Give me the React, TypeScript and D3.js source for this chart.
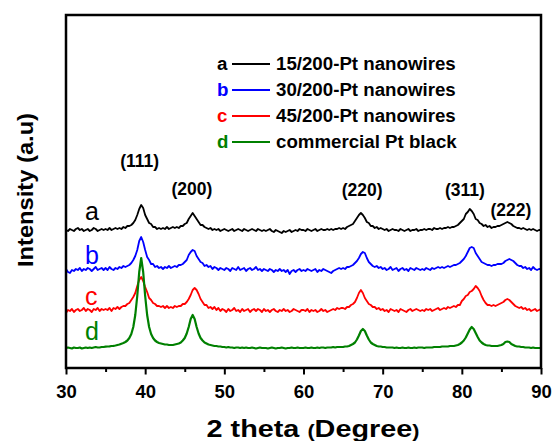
import React, { useEffect, useRef } from "react";
import * as d3 from "d3";

// XRD scan: 30 -> 90 deg, step 0.25 deg (241 points per pattern)
const scanStart = 30;
const scanStep = 0.25;

// intensity above each pattern's own baseline (a.u.)
const patternA = [
  0, -1, 1, 0, -1, 1, 2, 0, 1, -1, 0, 1, -1, 0, 2, 1, -1, 0, 1, 0,
  1, 0, 2, 0, 1, 2, 1, 2, 1, 3, 2, 4, 4, 5, 7, 10, 15, 21, 25, 22,
  15, 11, 7, 6, 3, 3, 1, 2, 1, 2, 1, 3, 1, 2, 3, 2, 3, 2, 4, 4,
  6, 7, 11, 14, 17, 14, 11, 8, 5, 5, 3, 2, 1, 2, 0, 1, 0, 1, -1, 0,
  1, 0, -1, 0, 1, -1, 0, 1, 0, -1, 1, 0, -1, 0, 1, 0, -1, 1, 0, -1,
  0, -1, 0, 1, -1, -2, 0, -1, -2, -3, -1, -2, -1, 0, -2, -1, 0, -1, 1, 0,
  0, -1, 1, 0, -1, 0, 1, -1, 0, 1, 0, 0, 1, 0, 1, 0, 1, 1, 2, 1,
  2, 1, 3, 4, 5, 6, 9, 12, 15, 17, 15, 12, 8, 7, 4, 4, 2, 3, 1, 2,
  1, 0, 1, -1, 0, 1, 0, 0, -1, 1, 0, -1, 0, 1, -1, 0, 0, 1, -1, 0,
  0, 1, 0, 1, 1, 0, 2, 1, 1, 2, 1, 2, 2, 3, 2, 3, 3, 4, 5, 7,
  9, 11, 16, 18, 21, 19, 16, 11, 10, 7, 6, 4, 5, 3, 4, 2, 3, 3, 4, 4,
  5, 6, 7, 8, 7, 6, 4, 3, 2, 2, 1, 2, 1, 0, 1, 0, 1, 0, -1, 0,
  0,
];

const patternB = [
  0, -3, -4, -1, -2, 0, -1, 1, -2, 0, -1, 1, 0, -2, 0, 2, -1, 0, 1, -1,
  1, -1, 2, 0, -1, 1, 0, 2, 1, 3, 2, 3, 4, 6, 9, 13, 19, 28, 32, 27,
  19, 12, 9, 5, 5, 2, 3, 1, 2, 0, 2, 1, 3, 1, 2, 3, 2, 4, 4, 5,
  7, 9, 14, 17, 19, 18, 13, 10, 7, 6, 3, 4, 2, 3, 0, 2, 1, -1, 1, 0,
  -1, 1, 0, -2, 1, 0, -1, 2, -1, 0, 1, -2, 0, 1, -1, 0, 2, -1, 0, -2,
  0, -1, -2, 0, -1, -3, -1, -2, 0, -2, -1, -3, -1, -5, -2, -1, -3, -1, 0, -2,
  -1, -2, 0, -1, -2, -1, 0, -3, -1, -2, 0, -1, -2, -3, -4, -2, -1, 0, 1, 0,
  1, 0, 2, 2, 3, 4, 6, 8, 11, 15, 17, 16, 11, 7, 5, 3, 2, 3, 1, 2,
  0, 1, -1, 0, 2, -1, 0, 1, -2, 0, 1, -1, 0, -2, 1, 0, -1, 1, 0, -1,
  0, -1, 1, 0, -1, 1, 0, 1, 2, 1, 2, 1, 2, 3, 2, 3, 4, 4, 5, 6,
  8, 10, 13, 17, 21, 22, 21, 16, 13, 10, 7, 6, 5, 4, 4, 3, 4, 4, 5, 5,
  5, 6, 8, 9, 10, 9, 8, 6, 4, 3, 3, 1, 2, 0, 1, -1, 2, 0, -1, 0,
  0,
];

const patternC = [
  -3, 0, -1, 1, -2, 0, 1, -1, 0, 2, -1, 1, 0, -2, 1, 0, 2, -1, 1, 0,
  1, 0, 2, -1, 2, 1, 3, 1, 3, 4, 4, 6, 7, 10, 13, 17, 24, 30, 33, 29,
  23, 18, 12, 10, 7, 6, 4, 4, 3, 4, 2, 4, 2, 3, 2, 4, 3, 4, 4, 6,
  6, 8, 11, 15, 20, 22, 20, 16, 11, 8, 5, 5, 2, 3, 1, 3, 0, 2, -1, 1,
  0, -2, 1, -1, 0, 2, -1, 0, -2, 1, -1, 0, 1, -2, 0, 1, -1, 1, 0, -2,
  1, -1, 0, -2, 0, 1, -1, -2, 0, -1, 1, -1, 0, -2, -1, 1, 0, -1, -2, 0,
  0, -1, 1, -2, 0, -1, 0, -2, -1, 1, -1, 0, -2, -1, 0, 1, 0, 2, 1, 2,
  2, 1, 3, 3, 5, 6, 8, 12, 17, 20, 17, 12, 9, 6, 5, 3, 3, 1, 2, 0,
  1, -1, 0, -2, 1, 0, -1, 0, -2, 1, 0, -1, -2, 0, 1, -1, 0, 1, 0, -1,
  0, -1, 1, 0, 1, -1, 0, 1, 2, 0, 1, 2, 1, 3, 2, 3, 4, 3, 5, 5,
  9, 11, 14, 15, 18, 19, 21, 24, 22, 19, 14, 10, 7, 5, 5, 4, 5, 4, 5, 6,
  7, 8, 10, 11, 10, 8, 6, 4, 3, 2, 3, 1, 2, 0, 1, -1, 0, 1, -1, 0,
  1,
];

const patternD = [
  0, 0.5, 0, -0.5, 0.5, 0, 0, 0.5, -0.5, 0, 0.5, 0, 0.5, 0, 0.5, 1, 0.5, 0.5, 1, 1,
  1.3, 1.5, 1.7, 2, 2.2, 2.5, 3, 3.5, 4.3, 5, 6, 7.5, 10, 14, 21, 33, 52, 76, 90, 76,
  52, 33, 21, 14, 10, 7.5, 6, 5, 4.5, 4, 3.5, 3.5, 3, 3, 3, 3.5, 4, 4.5, 5.5, 7.5,
  10, 14.5, 21, 29, 33, 29, 21, 14.5, 10, 7.5, 5.5, 4.5, 3.5, 3, 2.5, 2, 2, 1.5, 1.5, 1,
  1, 0.5, 1, 0.5, 0.5, 0, 0.5, 0.5, 0, 0.5, 0, 0.5, 0, 0, 0.5, 0, -0.5, 0, 0.5, 0,
  0, 0, -0.5, 0, 0.5, 0, -0.5, 0, 0, 0.5, 0, -0.5, 0, 0, 0.5, 0, 0, 0.5, 0, 0,
  0, 0.5, 0, 0, 0.5, 0, 0, 0.5, 0, 0.5, 0.5, 0, 0.5, 0.5, 0.5, 1, 0.5, 1, 1, 1,
  1, 1.5, 1.5, 2, 3, 4, 5.5, 8.5, 12.5, 17, 19, 17, 12.5, 8.5, 5.5, 4, 3, 2, 1.5, 1.5,
  1, 1, 0.5, 0.5, 0.5, 0.5, 0, 0.5, 0, 0, 0.5, 0, 0, 0.5, 0, 0, 0.5, 0, 0.5, 0.5,
  0.5, 0, 0.5, 0.5, 0.5, 0.5, 1, 1, 1, 1, 1.5, 1.5, 1.5, 1.5, 2, 2, 2, 2.5, 3, 4,
  5.5, 7.5, 10.5, 14.5, 18.5, 21, 19, 15, 11, 7.5, 5.5, 4, 3, 2.5, 2.5, 2, 2, 2, 2, 2.5,
  3, 4, 6, 6.5, 6, 4, 3, 2, 1.5, 1.5, 1, 1, 0.5, 0.5, 0.5, 0, 0.5, 0, 0, 0,
  0,
];

// vertical stacking offsets of each pattern (a.u.)
const offsets = [138, 99, 58, 20];
const letters = ["a", "b", "c", "d"];
const sampleNames = [
  "15/200-Pt nanowires",
  "30/200-Pt nanowires",
  "45/200-Pt nanowires",
  "commercial Pt black",
];
const colors = ["#000000", "#0000ff", "#ff0000", "#008000"];

// Pt fcc reflections and where their labels sit (2theta, a.u.)
const hklLabels = ["(111)", "(200)", "(220)", "(311)", "(222)"];
const hklX = [39.3, 45.9, 67.4, 80.4, 86.2];
const hklY = [201, 173, 172, 172, 152];

const majorTicks = [30, 40, 50, 60, 70, 80, 90];
const minorTicks = [35, 45, 55, 65, 75, 85];

const FONT = "'Liberation Sans', Arial, Helvetica, sans-serif";

export default function App() {
  const ref = useRef<SVGSVGElement>(null);

  useEffect(() => {
    const svg = d3.select(ref.current);
    svg.selectAll("*").remove();

    const left = 66, right = 541, top = 15, bottom = 368;
    const x = d3.scaleLinear().domain([30, 90]).range([left, right]);
    const y = d3.scaleLinear().domain([0, 353]).range([bottom, top]);

    svg.append("clipPath").attr("id", "plotclip")
      .append("rect")
      .attr("x", left).attr("y", top)
      .attr("width", right - left).attr("height", bottom - top);

    const patterns = [patternA, patternB, patternC, patternD];

    patterns.forEach((vals, k) => {
      const line = d3.line<number>()
        .x((d, i) => x(scanStart + i * scanStep))
        .y((d) => y(d + offsets[k]));
      svg.append("path")
        .datum(vals)
        .attr("clip-path", "url(#plotclip)")
        .attr("fill", "none")
        .attr("stroke", colors[k])
        .attr("stroke-width", k === 3 ? 2.2 : 1.8)
        .attr("stroke-linejoin", "round")
        .attr("d", line);
    });

    // pattern letters at the left
    const lift = [10, 5, 5, 8];
    letters.forEach((l, k) => {
      svg.append("text")
        .attr("x", x(32.4))
        .attr("y", y(offsets[k]) - lift[k])
        .attr("font-family", FONT)
        .attr("font-size", 25)
        .attr("fill", colors[k])
        .text(l);
    });

    // reflection labels
    hklLabels.forEach((t, i) => {
      svg.append("text")
        .attr("x", x(hklX[i]))
        .attr("y", y(hklY[i]))
        .attr("text-anchor", "middle")
        .attr("font-family", FONT)
        .attr("font-weight", "bold")
        .attr("font-size", 17.5)
        .attr("fill", "#000")
        .text(t);
    });

    // legend
    const legend = svg.append("g");
    sampleNames.forEach((name, k) => {
      const by = 70 + k * 26;
      legend.append("text")
        .attr("x", 217).attr("y", by)
        .attr("font-family", FONT).attr("font-weight", "bold")
        .attr("font-size", 18.7).attr("fill", colors[k])
        .text(letters[k]);
      legend.append("line")
        .attr("x1", 232).attr("x2", 270)
        .attr("y1", by - 6).attr("y2", by - 6)
        .attr("stroke", colors[k]).attr("stroke-width", 2);
      legend.append("text")
        .attr("x", 276).attr("y", by)
        .attr("font-family", FONT).attr("font-weight", "bold")
        .attr("font-size", 18.7).attr("fill", "#000")
        .text(name);
    });

    // bottom axis: major + minor ticks
    const xAxis = svg.append("g")
      .attr("transform", `translate(0,${bottom})`)
      .call(d3.axisBottom(x).tickValues(majorTicks).tickSize(6.5).tickSizeOuter(0).tickPadding(10));
    xAxis.select(".domain").remove();
    xAxis.selectAll("line").attr("stroke", "#000").attr("stroke-width", 2);
    xAxis.selectAll("text")
      .attr("font-family", FONT).attr("font-weight", "bold")
      .attr("font-size", 18.5).attr("fill", "#000");

    const xMinor = svg.append("g")
      .attr("transform", `translate(0,${bottom})`)
      .call(d3.axisBottom(x).tickValues(minorTicks).tickSize(4).tickFormat(() => ""));
    xMinor.select(".domain").remove();
    xMinor.selectAll("line").attr("stroke", "#000").attr("stroke-width", 2);

    // frame
    svg.append("rect")
      .attr("x", left).attr("y", top)
      .attr("width", right - left).attr("height", bottom - top)
      .attr("fill", "none").attr("stroke", "#000").attr("stroke-width", 2.5);

    // axis titles
    const xt = svg.append("text")
      .attr("x", 313).attr("y", 437)
      .attr("text-anchor", "middle")
      .attr("font-family", FONT).attr("font-weight", "bold")
      .attr("font-size", 24).attr("fill", "#000")
      .attr("textLength", 213).attr("lengthAdjust", "spacingAndGlyphs");
    xt.append("tspan").text("2 theta ");
    xt.append("tspan").attr("font-size", 18).text("(");
    xt.append("tspan").text("Degree");
    xt.append("tspan").attr("font-size", 18).text(")");

    svg.append("text")
      .attr("transform", "translate(33,190) rotate(-90)")
      .attr("text-anchor", "middle")
      .attr("font-family", FONT).attr("font-weight", "bold")
      .attr("font-size", 22).attr("fill", "#000")
      .attr("textLength", 154).attr("lengthAdjust", "spacingAndGlyphs")
      .text("Intensity (a.u)");
  }, []);

  return (
    <svg
      ref={ref}
      width={553}
      height={441}
      style={{ position: "absolute", left: 0, top: 0, background: "#fff" }}
    />
  );
}
